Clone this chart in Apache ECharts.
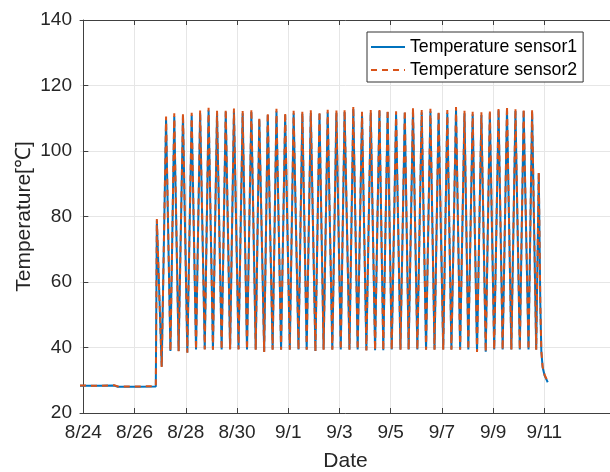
<!DOCTYPE html>
<html>
<head>
<meta charset="utf-8">
<script src="https://cdn.jsdelivr.net/npm/echarts@6/dist/echarts.min.js"></script>
<style>html,body{margin:0;padding:0;background:#fff;}#c{width:610px;height:472px;}</style>
</head>
<body>
<div id="c"></div>
<script>
// x values are days counted from 8/24
const tickDays = [0, 2, 4, 6, 8, 10, 12, 14, 16, 18];
const tickLabels = ['8/24', '8/26', '8/28', '8/30', '9/1', '9/3', '9/5', '9/7', '9/9', '9/11'];
const yTicks = [20, 40, 60, 80, 100, 120, 140];

const flatDays = [-0.13, 0.6, 1.2, 1.35, 2.1, 2.83];
const flatTemp1 = [28.3, 28.3, 28.4, 28.0, 28.0, 28.1];
const flatTemp2 = [28.4, 28.3, 28.5, 28.1, 28.1, 28.2];

const startDays = [2.87, 3.06];
const startTemp1 = [78.8, 34.2];
const startTemp2 = [79.2, 34.0];

const peakDays = [3.23,3.55,3.89,4.23,4.56,4.89,5.22,5.56,5.88,6.22,6.56,6.87,7.20,7.54,7.88,8.21,8.55,8.88,9.22,9.54,9.88,10.20,10.54,10.88,11.22,11.56,11.88,12.21,12.55,12.87,13.21,13.55,13.87,14.21,14.55,14.88,15.20,15.54,15.87,16.21,16.54,16.87,17.19,17.52];
const peakTemp1 = [109.8,110.6,110.8,110.9,111.6,112.4,111.5,112.0,112.1,111.5,111.9,109.6,111.0,112.1,111.0,111.5,111.4,111.6,111.4,111.8,111.7,111.9,112.8,111.2,111.7,112.2,111.9,111.3,111.7,112.5,111.8,112.1,111.5,111.7,112.6,111.5,111.2,111.0,111.7,112.4,112.9,112.2,112.2,111.9];
const peakTemp2 = [110.5,111.5,111.5,111.7,112.5,113.2,112.3,112.8,113.0,112.2,112.8,110.3,111.8,112.9,111.8,112.3,112.1,112.4,112.2,112.6,112.5,112.7,113.7,112.0,112.5,113.0,112.7,112.1,112.5,113.3,112.5,112.9,112.3,112.5,113.4,112.3,112.0,111.8,112.5,113.2,113.7,113.0,113.0,112.7];

const troughDays = [3.40,3.72,4.06,4.40,4.74,5.06,5.40,5.73,6.06,6.39,6.73,7.06,7.39,7.72,8.06,8.40,8.72,9.06,9.38,9.72,10.05,10.39,10.71,11.05,11.39,11.71,12.04,12.38,12.70,13.04,13.38,13.71,14.05,14.37,14.71,15.03,15.37,15.71,16.04,16.37,16.71,17.04,17.38,17.68];
const troughTemp1 = [38.9,38.9,38.5,39.4,39.5,39.4,39.4,39.5,39.5,39.4,39.4,38.7,39.4,39.4,39.4,39.4,39.4,38.9,39.4,39.4,39.4,39.4,39.4,39.2,39.2,39.2,39.4,39.4,39.4,39.4,39.4,39.4,39.4,39.4,39.4,39.4,38.7,38.7,39.4,39.4,39.4,39.4,39.4,39.4];
const troughTemp2 = [38.8,38.8,38.4,39.3,39.4,39.3,39.3,39.4,39.4,39.3,39.3,38.6,39.3,39.3,39.3,39.3,39.3,38.8,39.3,39.3,39.3,39.3,39.3,39.1,39.1,39.1,39.3,39.3,39.3,39.3,39.3,39.3,39.3,39.3,39.3,39.3,38.6,38.6,39.3,39.3,39.3,39.3,39.3,39.3];

const endDays = [17.78, 17.81, 17.84, 17.88, 17.93, 18.01, 18.13];
const endTemp1 = [93.2, 73.6, 53.4, 38.9, 34.0, 31.4, 29.4];
const endTemp2 = [93.6, 74.0, 53.7, 39.0, 34.2, 31.6, 29.6];

function build(flatT, startT, peakT, troughT, endT) {
  const pts = [];
  flatDays.forEach((d, i) => pts.push([d, flatT[i]]));
  startDays.forEach((d, i) => pts.push([d, startT[i]]));
  peakDays.forEach((d, i) => {
    pts.push([d, peakT[i]]);
    pts.push([troughDays[i], troughT[i]]);
  });
  endDays.forEach((d, i) => pts.push([d, endT[i]]));
  return pts;
}
const s1 = build(flatTemp1, startTemp1, peakTemp1, troughTemp1, endTemp1);
const s2 = build(flatTemp2, startTemp2, peakTemp2, troughTemp2, endTemp2);

const FONT = 'Liberation Sans, Arial, sans-serif';
const AX = '#404040';
const labelOf = v => { const i = tickDays.indexOf(Math.round(v)); return i >= 0 ? tickLabels[i] : ''; };

const chart = echarts.init(document.getElementById('c'), null, {renderer: 'canvas'});
chart.setOption({
  animation: false,
  backgroundColor: '#fff',
  grid: {left: 80, top: 20, right: -1, bottom: 59, containLabel: false, outerBoundsMode: 'none'},
  legend: {
    orient: 'vertical', left: 367, top: 32,
    padding: [6, 6, 3, 3], itemWidth: 34, itemHeight: 14, itemGap: 5,
    borderColor: '#333', borderWidth: 1, backgroundColor: '#fff',
    itemStyle: {opacity: 0},
    textStyle: {fontFamily: FONT, fontSize: 17.7, color: '#000'},
    data: ['Temperature sensor1', 'Temperature sensor2']
  },
  xAxis: [{
    type: 'value', position: 'bottom', min: -0.13, max: 20.6,
    name: 'Date', nameLocation: 'middle', nameGap: 38, nameMoveOverlap: false,
    nameTextStyle: {fontFamily: FONT, fontSize: 21, color: '#262626'},
    axisLine: {show: true, lineStyle: {color: AX, width: 1}},
    axisTick: {show: true, inside: true, length: 5, customValues: tickDays, lineStyle: {color: AX}},
    axisLabel: {customValues: tickDays, formatter: labelOf, fontFamily: FONT, fontSize: 19, color: '#262626', margin: 10},
    splitLine: {show: true, lineStyle: {color: '#e6e6e6', width: 1}}
  }, {
    type: 'value', position: 'top', min: -0.13, max: 20.6,
    axisLine: {show: true, lineStyle: {color: AX, width: 1}},
    axisTick: {show: true, inside: true, length: 5, customValues: tickDays, lineStyle: {color: AX}},
    axisLabel: {show: false},
    splitLine: {show: false}
  }],
  yAxis: [{
    type: 'value', min: 20, max: 140, interval: 20,
    name: 'Temperature[℃]', nameLocation: 'middle', nameGap: 45, nameRotate: 90, nameMoveOverlap: false,
    nameTextStyle: {fontFamily: FONT, fontSize: 21, color: '#262626'},
    axisLine: {show: true, lineStyle: {color: AX, width: 1}},
    axisTick: {show: true, inside: true, length: 5, lineStyle: {color: AX}},
    axisLabel: {fontFamily: FONT, fontSize: 19, color: '#262626', margin: 8,
      formatter: v => yTicks.indexOf(v) >= 0 ? String(v) : ''},
    splitLine: {show: true, lineStyle: {color: '#e6e6e6', width: 1}}
  }],
  series: [{
    name: 'Temperature sensor1', type: 'line', data: s1, symbol: 'none', showSymbol: false,
    lineStyle: {color: '#0072BD', width: 2, type: 'solid'}, itemStyle: {color: '#0072BD'}, z: 2
  }, {
    name: 'Temperature sensor2', type: 'line', data: s2, symbol: 'none', showSymbol: false,
    lineStyle: {color: '#D95319', width: 2, type: [6, 5]}, itemStyle: {color: '#D95319'}, z: 3
  }]
});
</script>
</body>
</html>
